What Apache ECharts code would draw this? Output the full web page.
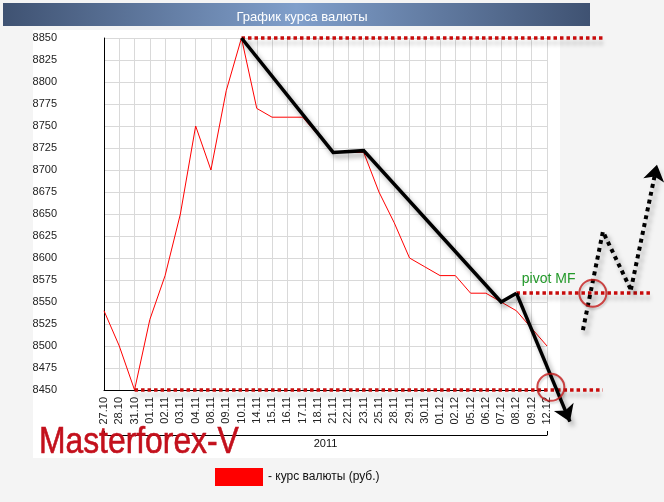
<!DOCTYPE html>
<html><head><meta charset="utf-8">
<script src="https://cdn.jsdelivr.net/npm/echarts/dist/echarts.min.js"></script>
<style>html,body{margin:0;padding:0;background:#f4f4f4}#c{width:664px;height:502px}</style>
</head><body><div id="c"></div>
<script>
const categories = ['27.10','28.10','31.10','01.11','02.11','03.11','04.11','08.11','09.11','10.11','14.11','15.11','16.11','17.11','18.11','21.11','22.11','23.11','25.11','28.11','29.11','30.11','01.12','02.12','05.12','06.12','07.12','08.12','09.12','12.12'];
const rateValues = [8540,8500,8450,8530,8580,8650,8750,8700,8790,8850,8770,8760,8760,8760,8740,8720,8720,8720,8675,8640,8600,8590,8580,8580,8560,8560,8550,8540,8520,8500];
const yMin = 8450, yMax = 8850, yStep = 25;
const yearLabel = ['2011'];
// annotation overlay (category index, value)
const trendPath = [[9,8850],[15,8720],[17,8722],[26,8550],[27,8560]];
const trendArrow = [[27,8560],[30.5,8414]];
const forecastPath = [[31.35,8518],[32.66,8630],[34.49,8564]];
const forecastArrow = [[34.49,8564],[36.2,8706]];
const levelTop = [[9,8850],[32.66,8850]];
const levelBottom = [[2,8450],[32.66,8450]];
const levelPivot = [[27,8560],[35.9,8560]];
const circlePoints = [[29.25,8453],[32.0,8560]];
const pivotLabelAt = [27.35,8560];

const FONT = 'Liberation Sans, Arial, sans-serif';
const chart = echarts.init(document.getElementById('c'));
const shadow = {shadowColor:'rgba(0,0,0,0.35)', shadowBlur:5, shadowOffsetX:3, shadowOffsetY:4};
const levelStyle = {color:'#c80c0c', width:3.5, type:[3.5,3], opacity:1, curveness:0,
  shadowColor:'rgba(0,0,0,0.25)', shadowBlur:4, shadowOffsetY:5};

function linesSeries(coords, style, opts) {
  return Object.assign({type:'lines', xAxisIndex:1, yAxisIndex:0, coordinateSystem:'cartesian2d', clip:false,
    silent:true, z:5, data:[{coords:coords}], lineStyle:style}, opts || {});
}

chart.setOption({
  animation:false,
  backgroundColor:'#f4f4f4',
  title:{text:'График курса валюты', left:297, top:6, textAlign:'center',
    textStyle:{color:'#fff', fontSize:13, fontWeight:'normal', fontFamily:FONT}},
  legend:{data:['курс валюты (руб.)'], left:210, top:463, itemWidth:48, itemHeight:18, icon:'rect',
    formatter:'- {name}', textStyle:{fontSize:12, color:'#111', fontFamily:FONT}},
  grid:{left:104, top:38, right:117, bottom:112},
  xAxis:[
    {type:'category', data:categories, boundaryGap:false,
      axisLine:{lineStyle:{color:'#000', width:1}}, axisTick:{show:false},
      axisLabel:{rotate:90, fontSize:11, color:'#222', margin:7, fontFamily:FONT, interval:0},
      splitLine:{show:true, lineStyle:{color:'#d9d9d9'}}},
    {type:'value', min:0, max:categories.length-1, show:false},
    {type:'category', data:yearLabel, position:'bottom', offset:45, boundaryGap:true,
      axisLine:{lineStyle:{color:'#000', width:1}},
      axisTick:{show:true, inside:true, length:4, lineStyle:{color:'#000'}},
      axisLabel:{fontSize:11, color:'#111', margin:3, fontFamily:FONT},
      splitLine:{show:false}}
  ],
  yAxis:{type:'value', min:yMin, max:yMax, interval:yStep,
    axisLine:{show:true, lineStyle:{color:'#000', width:1}}, axisTick:{show:false},
    axisLabel:{fontSize:11, color:'#222', margin:47, fontFamily:FONT, formatter:function(v){return String(v);}},
    splitLine:{lineStyle:{color:'#d9d9d9'}}},
  graphic:[
    {type:'rect', id:'panel', z:-1, shape:{x:33, y:30, width:527, height:428}, style:{fill:'#fff'}},
    {type:'rect', id:'bar', z:-1, shape:{x:3, y:3, width:587, height:23},
      style:{fill:new echarts.graphic.LinearGradient(0,0,1,0,[{offset:0,color:'#3f5272'},{offset:0.5,color:'#809fcb'},{offset:1,color:'#3f5272'}])}},
    {type:'text', id:'brand', z:10, x:39, y:443, scaleX:0.86,
      style:{text:'Masterforex-V', font:'37px '+FONT, fill:'#c3101c', verticalAlign:'middle',
        stroke:'#c3101c', lineWidth:0.6,
        shadowColor:'rgba(0,0,0,0.45)', shadowBlur:5, shadowOffsetX:4, shadowOffsetY:5}}
  ],
  series:[
    {type:'line', name:'курс валюты (руб.)', data:rateValues, showSymbol:false, symbol:'none',
      itemStyle:{color:'#ff0000'}, lineStyle:{color:'#ff0000', width:1}, z:3},
    linesSeries(levelTop, levelStyle, {z:4}),
    linesSeries(levelBottom, levelStyle, {z:4}),
    linesSeries(levelPivot, levelStyle, {z:4}),
    linesSeries(trendPath, Object.assign({color:'#000', width:3.5, opacity:1, curveness:0}, shadow), {polyline:true}),
    linesSeries(trendArrow, Object.assign({color:'#000', width:3.5, opacity:1, curveness:0}, shadow), {symbol:['none','arrow'], symbolSize:16}),
    linesSeries(forecastPath, Object.assign({color:'#000', width:4, type:[4,4], opacity:1, curveness:0}, shadow), {polyline:true}),
    linesSeries(forecastArrow, Object.assign({color:'#000', width:4, type:[4,4], opacity:1, curveness:0}, shadow), {symbol:['none','arrow'], symbolSize:16}),
    {type:'scatter', xAxisIndex:1, data:circlePoints, symbolSize:27, clip:false, silent:true,
      itemStyle:{color:'rgba(0,0,0,0)', borderColor:'#c41a1a', borderWidth:2,
        shadowColor:'rgba(0,0,0,0.2)', shadowBlur:2, shadowOffsetX:1, shadowOffsetY:2}, z:6}
  ]
});
const p = chart.convertToPixel({xAxisIndex:1, yAxisIndex:0}, pivotLabelAt);
chart.setOption({graphic:[{type:'text', id:'pivot', z:10, x:p[0], y:p[1]-14,
  style:{text:'pivot MF', font:'14px '+FONT, fill:'#23992a', verticalAlign:'middle'}}]});
</script></body></html>
